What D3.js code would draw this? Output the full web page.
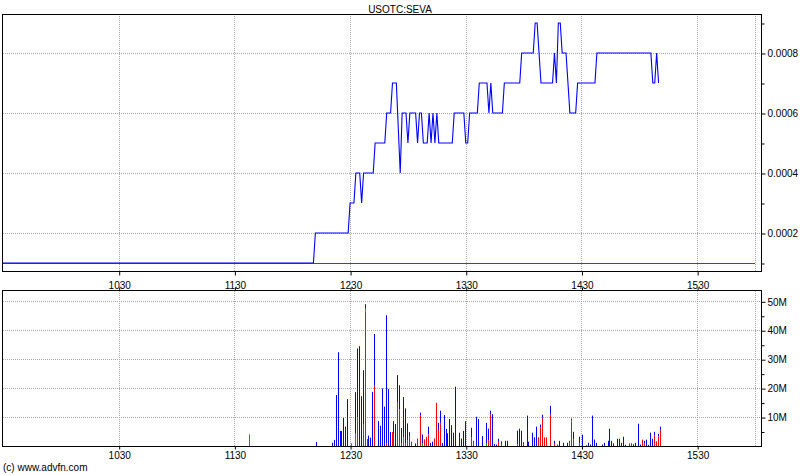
<!DOCTYPE html>
<html><head><meta charset="utf-8">
<script src="https://cdn.jsdelivr.net/npm/d3@7"></script>
<style>
body{margin:0;background:#fff}
text{font-family:"Liberation Sans",Arial,sans-serif;font-size:10px;fill:#000}
</style></head>
<body><svg id="c" width="800" height="475"></svg>
<script>
const title = "USOTC:SEVA";
const credit = "(c) www.advfn.com";
const prevClose = 0.0001;
const hourTicks = ["10:30","11:30","12:30","13:30","14:30","15:30"];
const gridTimes = ["10:30","11:30","12:30","13:30","14:30","15:30","16:00"];
const priceTicks = [0.0002,0.0004,0.0006,0.0008];
const priceMinor = [0.0001,0.0003,0.0005,0.0007,0.0009];
const volTicks = [10,20,30,40,50];
const volMinor = [5,15,25,35,45];

const priceTimes = ["09:30","12:11","12:12","12:29","12:30","12:32","12:33","12:35","12:36","12:37","12:42","12:43","12:48","12:49","12:51","12:52","12:54","12:56","12:57","12:59","13:00","13:01","13:04","13:05","13:06","13:07","13:08","13:10","13:11","13:12","13:13","13:14","13:15","13:16","13:23","13:24","13:29","13:30","13:31","13:32","13:36","13:37","13:41","13:42","13:43","13:44","13:49","13:50","13:58","13:59","14:05","14:06","14:07","14:09","14:15","14:16","14:17","14:18","14:19","14:20","14:22","14:23","14:24","14:27","14:28","14:37","14:38","15:06","15:07","15:08","15:09","15:10"];
const priceValues = [0.0001,0.0001,0.0002,0.0002,0.0003,0.0003,0.0004,0.0004,0.0003,0.0004,0.0004,0.0005,0.0005,0.0006,0.0006,0.0007,0.0007,0.0004,0.0006,0.0006,0.0005,0.0006,0.0006,0.0005,0.0006,0.0006,0.0005,0.0005,0.0006,0.0005,0.0006,0.0005,0.0006,0.0005,0.0005,0.0006,0.0006,0.0005,0.0005,0.0006,0.0006,0.0007,0.0007,0.0006,0.0007,0.0006,0.0006,0.0007,0.0007,0.0008,0.0008,0.0009,0.0009,0.0007,0.0007,0.0008,0.0007,0.0009,0.0009,0.0008,0.0008,0.0007,0.0006,0.0006,0.0007,0.0007,0.0008,0.0008,0.0007,0.0007,0.0008,0.0007];

// volume in millions, split by colour
const volTimes = ["11:37","12:12","12:20","12:21","12:22","12:23","12:24","12:25","12:26","12:27","12:28","12:30","12:32","12:33","12:34","12:35","12:36","12:37","12:38","12:39","12:40","12:41","12:42","12:44","12:45","12:46","12:47","12:48","12:49","12:50","12:51","12:52","12:53","12:54","12:55","12:56","12:57","12:58","12:59","13:00","13:01","13:03","13:04","13:06","13:07","13:08","13:09","13:10","13:11","13:12","13:13","13:14","13:15","13:16","13:17","13:18","13:19","13:20","13:21","13:22","13:23","13:24","13:26","13:27","13:28","13:29","13:32","13:33","13:35","13:36","13:38","13:40","13:41","13:42","13:43","13:44","13:45","13:46","13:48","13:50","13:51","13:56","13:57","13:58","13:59","14:01","14:02","14:04","14:05","14:06","14:07","14:08","14:09","14:10","14:11","14:13","14:15","14:17","14:18","14:20","14:22","14:23","14:24","14:25","14:28","14:30","14:32","14:33","14:34","14:35","14:36","14:37","14:40","14:41","14:43","14:44","14:45","14:46","14:48","14:49","14:50","14:51","14:52","14:54","14:55","14:56","14:57","14:59","15:00","15:01","15:02","15:03","15:04","15:05","15:06","15:07","15:08","15:09","15:10"];
const volRed   = [0,0,0,0,0,0,0,0,0,0,0,0,0,10,0,0,7.6,46.5,2.4,0,0,0,20.8,0,0,0,0,1,0,0,4.8,4.5,0,15.2,12.3,1,0,1,2,3.2,1.5,0,2.6,10.5,0,2.3,3.2,4,0,0,2.6,14.9,5.5,8,0,0,0,0,0,0,0,0,0,0,0,0,3,1.8,0,0,0,0,2,11,0,0,0,1.5,0.8,0,0,0,0,0,0.6,0,0,0,0,0,3,6.5,9.8,3,3,10.8,1,0.5,0,0,0,1.8,8.5,2.2,0.9,0,0.3,0,0,0,0,0,0,0,0,0,0,0,0,0,0,0,0,0.9,0.5,0,0,0,0,2.2,0.8,0,0,0,0,3.8,1.6,3.3,5.5];
const volGreen = [4,0,0,0,0,0,0,0,0,0,0,0.9,4.3,0,0,0,0,1,0,0,0,0,0,0,0,0,0,0,0,0,0,0,0,0,0.5,0,3,0,0,0,0,0,0,0,1,0,0,0,0,0,0,0,0,0,0,0,0,0,0,0,0,0,0,0,0,0,0,0,0,0,0,1,0,0,0,0,0,0,0,0,0,0.5,0,0,0,0,0,0,0,0,0,0,0,0,0,0,0,0,0,0,0,0,0.3,0,0,0,0,0,0,0,0,0,0,0,0,0,0,0,0,0,0,0,0,0,0,0,0,0,0,0,0,0,0,0,0,0,0,0,0];
const volBlue  = [0,1.4,1.15,2.1,17.6,32.4,5.2,5.2,9.7,6.7,16.2,0,14.3,23.7,34.5,17.2,18.6,1.5,0,3.6,2.9,18.7,17.9,8.6,7,19.9,13.6,44.2,19.7,4.8,0,4.1,7.6,9.3,8.2,5.2,13.9,12,5.8,1.6,0,0.9,0,1,3,0,0,2.7,1.1,1.5,0,0,2.5,4.2,1,10.7,5.9,4.4,9.3,7.2,4.6,20.5,4.6,2.6,5.2,8.6,3.3,0,10.1,9.3,3.4,7,4,1.2,11,0.7,0.5,1,0.8,1.8,1.8,4.8,6,5.3,0.7,10.5,1.5,4.6,3,6.7,0,0.9,1,0,0,3.1,0.8,0,1.8,1.1,1.1,0,0.7,2.7,2.3,3.9,0,1.1,0.5,10.5,2.2,1.1,0.5,1.1,1.8,6,1.8,0.9,2.5,2.5,1.1,3.2,0.4,0,0.4,0.6,1.1,7.7,0.5,0,1,2.2,0.4,4.6,2.5,1.1,0,0.9,1.2];

const parse = d3.timeParse("%H:%M");
const svg = d3.select("#c");
svg.append("rect").attr("width",800).attr("height",475).attr("fill","#fff");

const x = d3.scaleTime().domain([parse("09:30"), parse("16:00")]).range([3, 755]);
const yP = d3.scaleLinear().domain([0.0000733, 0.00093]).range([271, 14]);
const yV = d3.scaleLinear().domain([0, 53.56]).range([446, 291]);

const gridCol = "#a8a8a8";
function grid(g, yScale, vals, top, bottom){
  g.selectAll("line.v").data(gridTimes).join("line")
    .attr("x1", d=>Math.round(x(parse(d)))+0.5).attr("x2", d=>Math.round(x(parse(d)))+0.5)
    .attr("y1", top).attr("y2", bottom)
    .attr("stroke", gridCol).attr("stroke-dasharray","1,1");
  g.selectAll("line.h").data(vals).join("line")
    .attr("x1", 3).attr("x2", 761)
    .attr("y1", d=>Math.round(yScale(d))+0.5).attr("y2", d=>Math.round(yScale(d))+0.5)
    .attr("stroke", gridCol).attr("stroke-dasharray","1,1");
}

// ---- price panel
const gp = svg.append("g");
grid(gp.append("g"), yP, priceTicks, 14, 271);
gp.append("line").attr("x1",3).attr("x2",755)
  .attr("y1",Math.round(yP(prevClose))+0.5).attr("y2",Math.round(yP(prevClose))+0.5)
  .attr("stroke","#ff0000");
const line = d3.line().x((d,i)=>x(parse(priceTimes[i]))).y(d=>yP(d));
gp.append("path").attr("d", line(priceValues)).attr("fill","none")
  .attr("stroke","#0000ff").attr("stroke-width",1.1);
gp.append("rect").attr("x",2.5).attr("y",14.5).attr("width",759).attr("height",257)
  .attr("fill","none").attr("stroke","#000");

function styleAxis(g){ g.select(".domain").remove(); g.selectAll("line").attr("stroke","#000"); g.selectAll("text").attr("font-family",null).attr("font-size",null).attr("fill","#000"); }

gp.append("g").attr("transform","translate(761.5,0.5)")
  .call(d3.axisRight(yP).tickValues(priceTicks).tickSize(4).tickPadding(2).tickFormat(d3.format(".4f")))
  .call(styleAxis);
gp.append("g").attr("transform","translate(761.5,0.5)")
  .call(d3.axisRight(yP).tickValues(priceMinor).tickSize(3).tickFormat(""))
  .call(styleAxis);
gp.append("g").attr("transform","translate(0.5,271.5)")
  .call(d3.axisBottom(x).tickValues(hourTicks.map(parse)).tickSize(4).tickPadding(6).tickFormat(d3.timeFormat("%H%M")))
  .call(styleAxis);

// ---- volume panel
const gv = svg.append("g");
grid(gv.append("g"), yV, volTicks, 291, 446);
const rows = volTimes.map((t,i)=>({t:parse(t), red:volRed[i], green:volGreen[i], blue:volBlue[i]}));
const stack = d3.stack().keys(["red","green","blue"])(rows);
const colors = {red:"#ff0000", green:"#00a000", blue:"#0000ff"};
gv.selectAll("g.s").data(stack).join("g").attr("fill", s=>colors[s.key])
  .selectAll("rect").data(s=>s.filter(d=>d[1]-d[0]>0)).join("rect")
  .attr("x", d=>Math.floor(x(d.data.t)+1.5))
  .attr("width", 1)
  .attr("y", d=>yV(d[1]))
  .attr("height", d=>yV(d[0])-yV(d[1]));
gv.append("rect").attr("x",2.5).attr("y",290.5).attr("width",759).attr("height",156)
  .attr("fill","none").attr("stroke","#000");
gv.append("g").attr("transform","translate(761.5,0.5)")
  .call(d3.axisRight(yV).tickValues(volTicks).tickSize(4).tickPadding(2).tickFormat(d=>d+"M"))
  .call(styleAxis);
gv.append("g").attr("transform","translate(761.5,0.5)")
  .call(d3.axisRight(yV).tickValues(volMinor).tickSize(3).tickFormat(""))
  .call(styleAxis);
gv.append("g").attr("transform","translate(0.5,446.5)")
  .call(d3.axisBottom(x).tickValues(hourTicks.map(parse)).tickSize(3).tickPadding(2).tickFormat(d3.timeFormat("%H%M")))
  .call(styleAxis);
gv.append("g").attr("transform","translate(0.5,290.5)")
  .call(d3.axisTop(x).tickValues(hourTicks.map(parse)).tickSize(3).tickFormat(""))
  .call(styleAxis);

svg.append("text").attr("x",400).attr("y",13).attr("text-anchor","middle").text(title);
svg.append("text").attr("x",3).attr("y",471).text(credit);
</script></body></html>
